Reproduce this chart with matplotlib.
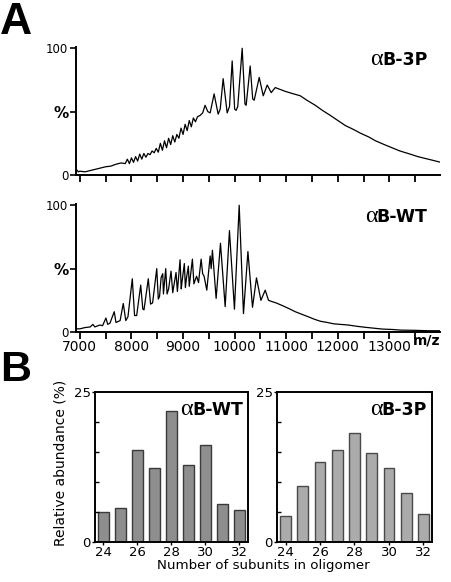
import matplotlib
matplotlib.use("Agg")
import matplotlib.pyplot as plt
import numpy as np

# ---------------- data ----------------
# Panel A, top: alphaB-3P mass spectrum (m/z, relative intensity %)
mz_3p = [6920, 6940, 6970, 7000, 7100, 7200, 7300, 7400, 7500, 7600, 7700, 7800,
         7880, 7920, 7960, 8000, 8040, 8080, 8120, 8160, 8200, 8240, 8280, 8320,
         8360, 8400, 8440, 8480, 8520, 8560, 8600, 8640, 8680, 8720, 8760, 8800,
         8840, 8880, 8920, 8960, 9000, 9040, 9080, 9120, 9160, 9200, 9240, 9280,
         9330, 9380, 9427, 9480, 9525, 9602, 9680, 9720, 9777, 9855, 9900, 9952,
         10000, 10029, 10060, 10146, 10200, 10223, 10301, 10350, 10379, 10476,
         10554, 10631, 10709, 10787, 10850, 10981, 11100, 11272, 11400, 11563,
         11700, 11855, 12000, 12146, 12300, 12437, 12600, 12729, 12900, 13020,
         13200, 13408, 13550, 13700, 13850, 13975]
int_3p = [5, 4, 2.5, 3, 2.5, 3.5, 4.5, 5.5, 6.5, 7, 8.5, 9.5,
          9, 12.5, 9, 13.5, 10, 14.5, 11, 16.5, 12.5, 17, 14, 17,
          16, 19, 17.5, 21, 18, 25, 19.5, 27, 21.5, 29, 24, 31,
          26, 32, 29, 37, 32, 40, 35, 43, 38, 45, 42, 46,
          47, 49, 55, 50, 49, 64, 48, 52, 76, 49, 54, 90,
          52, 51, 54, 100, 56, 55, 86, 60, 59, 77,
          62.5, 71, 65, 69, 68, 66, 64.5, 62.5, 59, 55,
          51, 47, 43, 39, 36, 33, 30, 27, 24, 22,
          19, 16.4, 14.5, 13, 11.5, 10.2]

# Panel A, bottom: alphaB-WT mass spectrum
mz_wt = [6930, 7000, 7100, 7200, 7252, 7290, 7388, 7440, 7505, 7540, 7583, 7666,
         7700, 7780, 7841, 7890, 7932, 8016, 8060, 8101, 8179, 8220, 8243, 8326,
         8370, 8410, 8490, 8520, 8544, 8575, 8606, 8620, 8664, 8690, 8720, 8767,
         8800, 8864, 8890, 8942, 8965, 8981, 9025, 9045, 9064, 9103, 9120, 9181,
         9210, 9262, 9300, 9350, 9380, 9408, 9460, 9525, 9545, 9569, 9641, 9725,
         9816, 9899, 9996, 10088, 10171, 10257, 10346, 10423, 10509, 10592, 10656,
         10722, 10800, 10916, 11050, 11175, 11300, 11427, 11550, 11660, 11800,
         11913, 12050, 12205, 12370, 12535, 12700, 12865, 13050, 13214, 13506,
         13750, 13975]
int_wt = [2.5, 2.5, 3.5, 4, 6, 4, 5.5, 5, 11, 6, 7, 16,
          7.5, 9, 22.5, 9, 12, 42, 13, 13, 37, 18, 17.5, 42,
          22, 23, 50, 26, 28, 43, 46, 30, 50, 30, 34, 48,
          31, 47, 32, 57, 34, 40, 54, 35, 42, 52, 36, 57.5,
          38, 44, 39, 57.5, 46, 44, 33, 60, 50, 64.5, 26.5, 70,
          20, 80, 18, 100, 14.5, 63.5, 19.5, 42.7, 25, 33, 25,
          24, 23, 21, 18.5, 16, 14, 12, 10, 8.5, 7.5,
          6.5, 6, 5.5, 4.5, 3.7, 3, 2.3, 2, 1.5, 1.3,
          1, 1]

# Panel B: oligomer distributions
subunits = [24, 25, 26, 27, 28, 29, 30, 31, 32]
abund_wt = [5.0, 5.6, 15.3, 12.4, 21.9, 12.9, 16.1, 6.4, 5.4]
abund_3p = [4.4, 9.4, 13.4, 15.3, 18.1, 14.9, 12.3, 8.1, 4.7]

mz_ticks = list(range(7000, 14000, 500))
mz_labels = [str(v) if v % 1000 == 0 else "" for v in mz_ticks]

# ---------------- figure ----------------
W, H = 452, 582
fig = plt.figure(figsize=(W / 100, H / 100), dpi=100)
plt.rcParams['font.family'] = ['DejaVu Sans']


def ax_rect(l, t, r, b):
    return [l / W, 1 - b / H, (r - l) / W, (b - t) / H]


def label_alpha(ax, text, x, y, size=12.5):
    t = ax.text(x, y, text, transform=ax.transAxes, ha='right', va='baseline',
                fontsize=size, fontweight='bold', family='DejaVu Sans')
    fig.canvas.draw()
    bb = t.get_window_extent(renderer=fig.canvas.get_renderer())
    inv = ax.transAxes.inverted()
    x0, _ = inv.transform((bb.x0 + 1.0, bb.y0))
    ax.text(x0, y, "α", transform=ax.transAxes, ha='right', va='baseline',
            fontsize=size + 5, family='Liberation Serif')


def spectrum_axes(rect, mz, inten, name, show_labels):
    ax = fig.add_axes(rect)
    ax.plot(mz, inten, color='black', lw=0.9)
    ax.set_xlim(6925, 13980)
    ax.set_ylim(0, 101)
    for s in ('top', 'right'):
        ax.spines[s].set_visible(False)
    for s in ('left', 'bottom'):
        ax.spines[s].set_linewidth(1.4)
    ax.set_xticks(mz_ticks)
    if show_labels:
        ax.set_xticklabels(mz_labels, fontsize=10)
    else:
        ax.set_xticklabels([])
    ax.tick_params(axis='x', direction='out', length=5, width=1.3, pad=1)
    ax.set_yticks([0, 50, 100])
    ax.set_yticklabels(["0", "%", "100"], fontsize=8.5)
    ax.get_yticklabels()[1].set_fontsize(11)
    ax.get_yticklabels()[1].set_fontweight('bold')
    ax.tick_params(axis='y', direction='out', length=4, width=1.2, pad=1.5)
    label_alpha(ax, name, 0.965, 0.86)
    return ax


ax1 = spectrum_axes(ax_rect(76, 47, 440, 175), mz_3p, int_3p, "B-3P", False)
ax2 = spectrum_axes(ax_rect(76, 204, 440, 332), mz_wt, int_wt, "B-WT", True)
fig.text(427 / W, 1 - 345 / H, "m/z", fontsize=10, fontweight='bold',
         ha='center', va='baseline')


def bar_axes(rect, vals, color, edge, name):
    ax = fig.add_axes(rect)
    ax.bar(subunits, vals, width=0.62, color=color, edgecolor=edge, linewidth=1.0)
    ax.set_xlim(23.5, 32.5)
    ax.set_ylim(0, 25)
    for s in ax.spines.values():
        s.set_linewidth(1.4)
    ax.set_xticks([24, 26, 28, 30, 32])
    ax.set_xticklabels(["24", "26", "28", "30", "32"], fontsize=9.5)
    ax.tick_params(axis='x', direction='out', length=2.5, width=1.0, pad=0.5)
    ax.set_yticks([0, 25])
    ax.set_yticklabels(["0", "25"], fontsize=9.5)
    ax.set_yticks([5, 10, 15, 20], minor=True)
    ax.tick_params(axis='y', which='major', direction='out', length=2, width=1.0, pad=1)
    ax.tick_params(axis='y', which='minor', direction='in', length=3, width=1.0)
    label_alpha(ax, name, 0.968, 0.847)
    return ax


ax3 = bar_axes(ax_rect(95, 392, 248, 542), abund_wt, '#8e8e8e', '#3a3a3a', "B-WT")
ax4 = bar_axes(ax_rect(277, 392, 432, 542), abund_3p, '#ababab', '#4a4a4a', "B-3P")

fig.text(60 / W, 1 - 463 / H, "Relative abundance (%)", rotation=90,
         fontsize=10, ha='center', va='center')
fig.text(263 / W, 1 - 565 / H, "Number of subunits in oligomer",
         fontsize=9.6, ha='center', va='center')

fig.text(0 / W, 1 - 34 / H, "A", fontsize=32, fontweight='bold',
         family='Liberation Sans', ha='left', va='baseline')
fig.text(0 / W, 1 - 381 / H, "B", fontsize=31, fontweight='bold',
         family='Liberation Sans', ha='left', va='baseline')

fig.savefig("out.png", dpi=100)
